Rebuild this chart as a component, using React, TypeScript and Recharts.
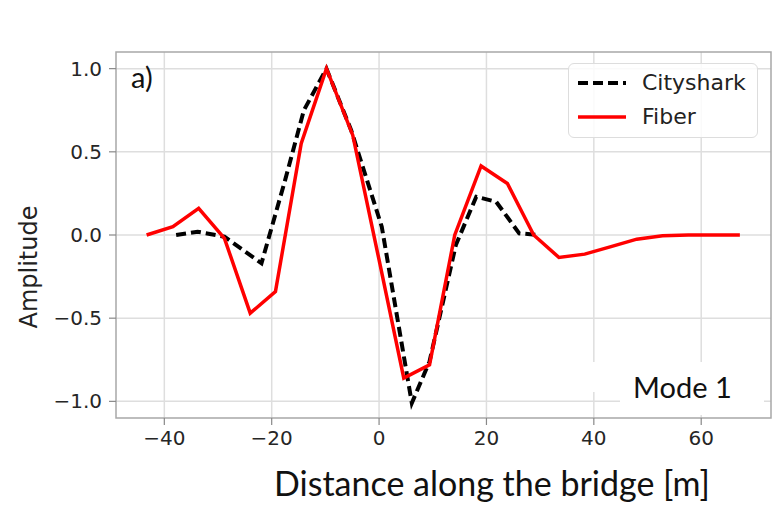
import { LineChart, Line, XAxis, YAxis, CartesianGrid, Legend, ReferenceArea, Customized } from 'recharts';

// Fiber measurement (red solid)
const fiberDist = [-43.3, -38.4, -33.6, -28.8, -24.0, -19.3, -14.5, -9.8, -4.9, 0.0, 4.6, 9.4, 14.1, 19.0, 23.9, 28.8, 33.5, 38.3, 43.2, 48.0, 52.8, 57.6, 62.4, 67.2];
const fiberAmp = [0.0, 0.05, 0.16, -0.02, -0.47, -0.34, 0.55, 1.0, 0.6, -0.15, -0.86, -0.78, 0.0, 0.415, 0.31, 0.0, -0.135, -0.115, -0.07, -0.025, -0.005, 0.0, 0.0, 0.0];

// Cityshark (black dashed)
const citysharkDist = [-37.8, -33.8, -28.8, -21.9, -17.5, -14.0, -9.8, -5.2, 0.5, 6.1, 9.4, 14.3, 18.1, 21.8, 26.1, 29.8];
const citysharkAmp = [0.0, 0.02, -0.01, -0.17, 0.33, 0.75, 1.0, 0.63, 0.05, -1.01, -0.76, -0.06, 0.23, 0.2, 0.01, 0.0];

const xTicks = [-40, -20, 0, 20, 40, 60];
const yTicks = [-1, -0.5, 0, 0.5, 1];

const fiberData = fiberDist.map((d, i) => ({ d, amp: fiberAmp[i] }));
const citysharkData = citysharkDist.map((d, i) => ({ d, amp: citysharkAmp[i] }));

const X_DOMAIN: [number, number] = [-49, 73];
const Y_DOMAIN: [number, number] = [-1.1, 1.1];

const tickFont = { fontFamily: 'DejaVu Sans', fontSize: 20, fill: '#262626' };
const minus = (s: string) => s.replace('-', '\u2212');

const LegendBox = () => (
  <div
    style={{
      position: 'relative',
      width: 190,
      height: 75,
      boxSizing: 'border-box',
      border: '1px solid #dddddd',
      borderRadius: 6,
      background: 'rgba(255,255,255,0.85)',
      fontFamily: 'DejaVu Sans',
      fontSize: 22,
      color: '#222',
    }}
  >
    <svg width={60} height={75} style={{ position: 'absolute', left: 0, top: 0 }}>
      <line x1={9} x2={57} y1={19} y2={19} stroke="#000" strokeWidth={4} strokeDasharray="10 5" />
      <line x1={9} x2={57} y1={53} y2={53} stroke="#ff0000" strokeWidth={3.5} />
    </svg>
    <div style={{ position: 'absolute', left: 73, top: 5, lineHeight: '28px' }}>Cityshark</div>
    <div style={{ position: 'absolute', left: 73, top: 39, lineHeight: '28px' }}>Fiber</div>
  </div>
);

const Annotations = () => (
  <g>
    <rect x={620} y={362} width={144} height={53} fill="#fff" />
    <rect x={590} y={362} width={32} height={30} fill="#fff" />
    <text x={131} y={88} fontFamily="Lato" fontSize={29} fill="#111">a)</text>
    <text x={633} y={398} fontFamily="Lato" fontSize={29} fill="#111">Mode 1</text>
    <text x={492} y={496} textAnchor="middle" fontFamily="Lato" fontSize={34} fill="#111">
      Distance along the bridge [m]
    </text>
    <text x={37} y={267} transform="rotate(-90 37 267)" textAnchor="middle" fontFamily="DejaVu Sans" fontSize={24} fill="#222">
      Amplitude
    </text>
  </g>
);

export default function App() {
  return (
    <div style={{ position: 'absolute', left: 0, top: 0, background: '#fff' }}>
      <LineChart width={782} height={505} margin={{ top: 52, right: 11, bottom: 0, left: 0 }}>
        <CartesianGrid stroke="#dedede" strokeWidth={1.5} horizontalValues={yTicks} verticalValues={xTicks} />
        <XAxis
          dataKey="d"
          type="number"
          domain={X_DOMAIN}
          ticks={xTicks}
          allowDataOverflow
          height={87}
          tick={tickFont}
          tickSize={7}
          tickMargin={6}
          tickLine={{ stroke: '#888', strokeWidth: 1.2 }}
          axisLine={false}
          tickFormatter={(v: number) => minus(String(v))}
        />
        <YAxis
          type="number"
          domain={Y_DOMAIN}
          ticks={yTicks}
          allowDataOverflow
          width={116}
          tick={tickFont}
          tickSize={7}
          tickMargin={7}
          tickLine={{ stroke: '#888', strokeWidth: 1.2 }}
          axisLine={false}
          tickFormatter={(v: number) => minus(v.toFixed(1))}
        />
        <Customized component={Annotations} />
        <ReferenceArea x1={X_DOMAIN[0]} x2={X_DOMAIN[1]} y1={Y_DOMAIN[0]} y2={Y_DOMAIN[1]} fill="none" stroke="#a8a8a8" strokeWidth={1.5} fillOpacity={0} />
        <Line
          data={citysharkData}
          dataKey="amp"
          name="Cityshark"
          stroke="#000"
          strokeWidth={4}
          strokeDasharray="10 5"
          dot={false}
          type="linear"
          isAnimationActive={false}
        />
        <Line
          data={fiberData}
          dataKey="amp"
          name="Fiber"
          stroke="#ff0000"
          strokeWidth={3.5}
          dot={false}
          type="linear"
          isAnimationActive={false}
        />
        <Legend
          layout="horizontal"
          verticalAlign="middle"
          align="center"
          content={<LegendBox />}
          wrapperStyle={{ left: 568, top: 63, width: 190, height: 75 }}
        />
      </LineChart>
    </div>
  );
}
